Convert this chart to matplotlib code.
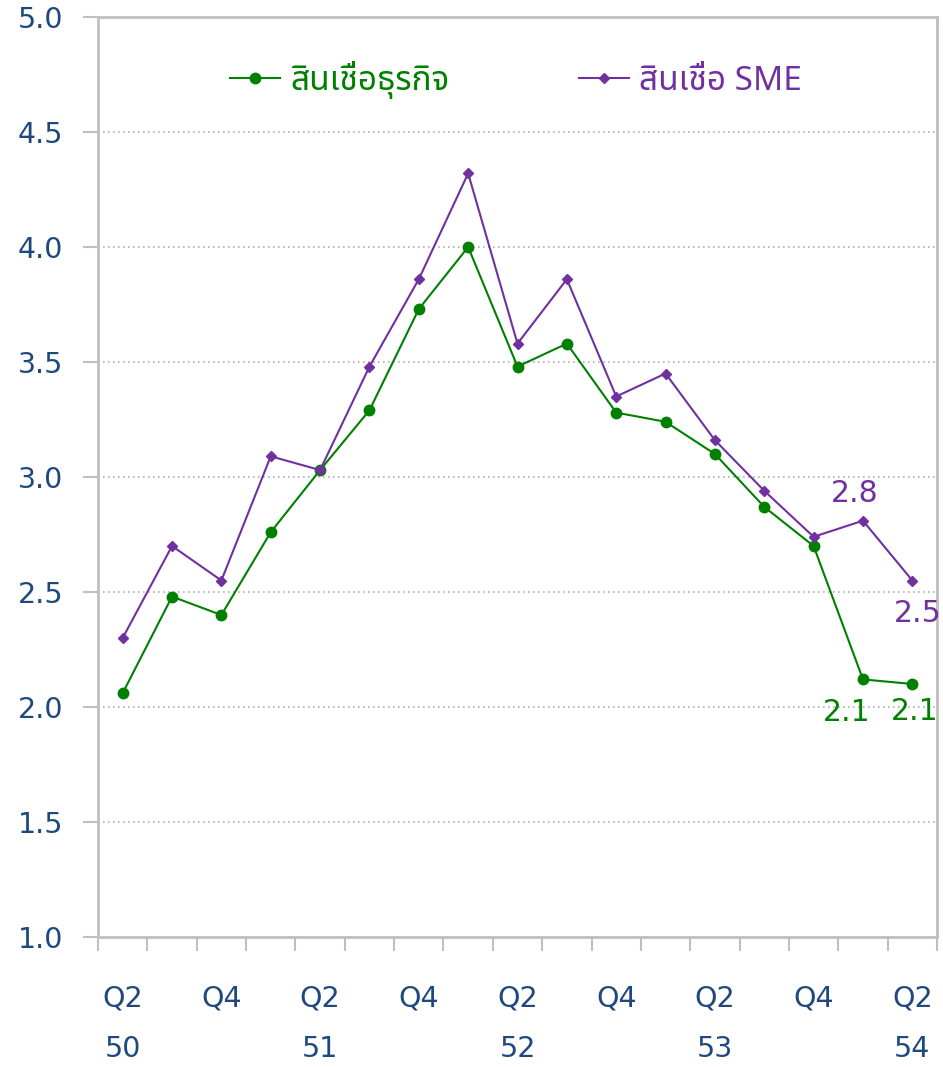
import matplotlib
matplotlib.use("Agg")
import matplotlib.pyplot as plt
from matplotlib import font_manager as fm
from matplotlib.ft2font import FT2Font
from matplotlib.lines import Line2D

# ---------------- data ----------------
quarters = ["Q2", "Q3", "Q4", "Q1", "Q2", "Q3", "Q4", "Q1", "Q2",
            "Q3", "Q4", "Q1", "Q2", "Q3", "Q4", "Q1", "Q2"]
years = ["50", "", "", "", "51", "", "", "", "52", "", "", "", "53", "", "", "", "54"]
business_loans = [2.06, 2.48, 2.40, 2.76, 3.03, 3.29, 3.73, 4.00, 3.48,
                  3.58, 3.28, 3.24, 3.10, 2.87, 2.70, 2.12, 2.10]
sme_loans = [2.30, 2.70, 2.55, 3.09, 3.03, 3.48, 3.86, 4.32, 3.58,
             3.86, 3.35, 3.45, 3.16, 2.94, 2.74, 2.81, 2.55]
series_names = ["สินเชื่อธุรกิจ", "สินเชื่อ SME"]
y_ticks = [1.0, 1.5, 2.0, 2.5, 3.0, 3.5, 4.0, 4.5, 5.0]

# ---------------- fonts ----------------
def find_thai_font():
    prefs = ["Tahoma", "Noto Sans Thai", "Noto Sans Thai UI", "Loma", "Garuda",
             "Sarabun", "Kinnari", "Norasi", "Waree", "Umpush", "Laksaman"]
    found = []
    for f in fm.fontManager.ttflist:
        try:
            cm = FT2Font(f.fname).get_charmap()
            if 0x0E2A in cm and 0x0E34 in cm:
                found.append(f.name)
        except Exception:
            pass
    for p in prefs:
        if p in found:
            return p
    return found[0] if found else None

thai = find_thai_font()
base = "DejaVu Sans"
thai_family = [thai, base] if thai else [base]
plt.rcParams["font.family"] = [base] + ([thai] if thai else [])

GREEN = "#008000"
PURPLE = "#7030A0"
TICKC = "#1F497D"
GRAY = "#BFBFBF"

fig = plt.figure(figsize=(9.43, 10.67), dpi=100)
ax = fig.add_axes([98 / 943, 1 - 937 / 1067, (937 - 98) / 943, (937 - 17) / 1067])

x = list(range(len(quarters)))
ax.plot(x, business_loans, color=GREEN, lw=1.5, marker="o", ms=7.5, zorder=3)
ax.plot(x, sme_loans, color=PURPLE, lw=1.5, marker="D", ms=5.5, zorder=3)

ax.set_xlim(-0.5, len(quarters) - 0.5)
ax.set_ylim(1.0, 5.0)
ax.set_yticks(y_ticks)
ax.set_yticklabels([f"{v:.1f}" for v in y_ticks])
for v in y_ticks[1:-1]:
    ax.axhline(v, color="#B0B0B0", lw=1.2, ls=(0, (1, 2)), zorder=1)

# x ticks: boundaries (major) + labels at centers (minor)
ax.set_xticks([i - 0.5 for i in range(len(quarters) + 1)])
ax.set_xticklabels([])
lab_pos = [i for i in x if i % 2 == 0]
ax.set_xticks(lab_pos, minor=True)
ax.set_xticklabels([quarters[i] + ("\n" + years[i] if years[i] else "\n") for i in lab_pos],
                   minor=True, linespacing=2.05)
ax.tick_params(axis="x", which="major", length=10, width=1.5, color=GRAY, direction="out")
ax.tick_params(axis="x", which="minor", length=0, pad=34, labelsize=20.5, labelcolor=TICKC)
ax.tick_params(axis="y", length=11, width=1.5, color=GRAY, direction="out", pad=14,
               labelsize=20.5, labelcolor=TICKC)
for t in ax.get_xticklabels(minor=True):
    t.set_verticalalignment("top")

for s in ax.spines.values():
    s.set_color(GRAY)
    s.set_linewidth(2)

# data labels
def lab(i, vals, txt, color, dx, dy):
    ax.annotate(txt, (x[i], vals[i]), xytext=(dx, dy), textcoords="offset pixels",
                ha="center", va="center", fontsize=21.5, color=color, zorder=4)

lab(15, sme_loans, "2.8", PURPLE, -8, 27)
lab(16, sme_loans, "2.5", PURPLE, 5, -33)
lab(15, business_loans, "2.1", GREEN, -16, -33)
lab(16, business_loans, "2.1", GREEN, 2, -27)

# legend
handles = [Line2D([], [], color=GREEN, lw=1.5, marker="o", ms=7.5),
           Line2D([], [], color=PURPLE, lw=1.5, marker="D", ms=5.5)]
leg = ax.legend(handles, series_names, loc="center",
                bbox_to_anchor=(516 / 943, 1 - 80 / 1067), bbox_transform=fig.transFigure,
                ncol=2, frameon=False, handlelength=1.5, handletextpad=0.3, columnspacing=3.9,
                borderaxespad=0, borderpad=0,
                prop={"family": thai_family, "size": 24})
for t, c in zip(leg.get_texts(), [GREEN, PURPLE]):
    t.set_color(c)

fig.savefig("out.png", dpi=100)
